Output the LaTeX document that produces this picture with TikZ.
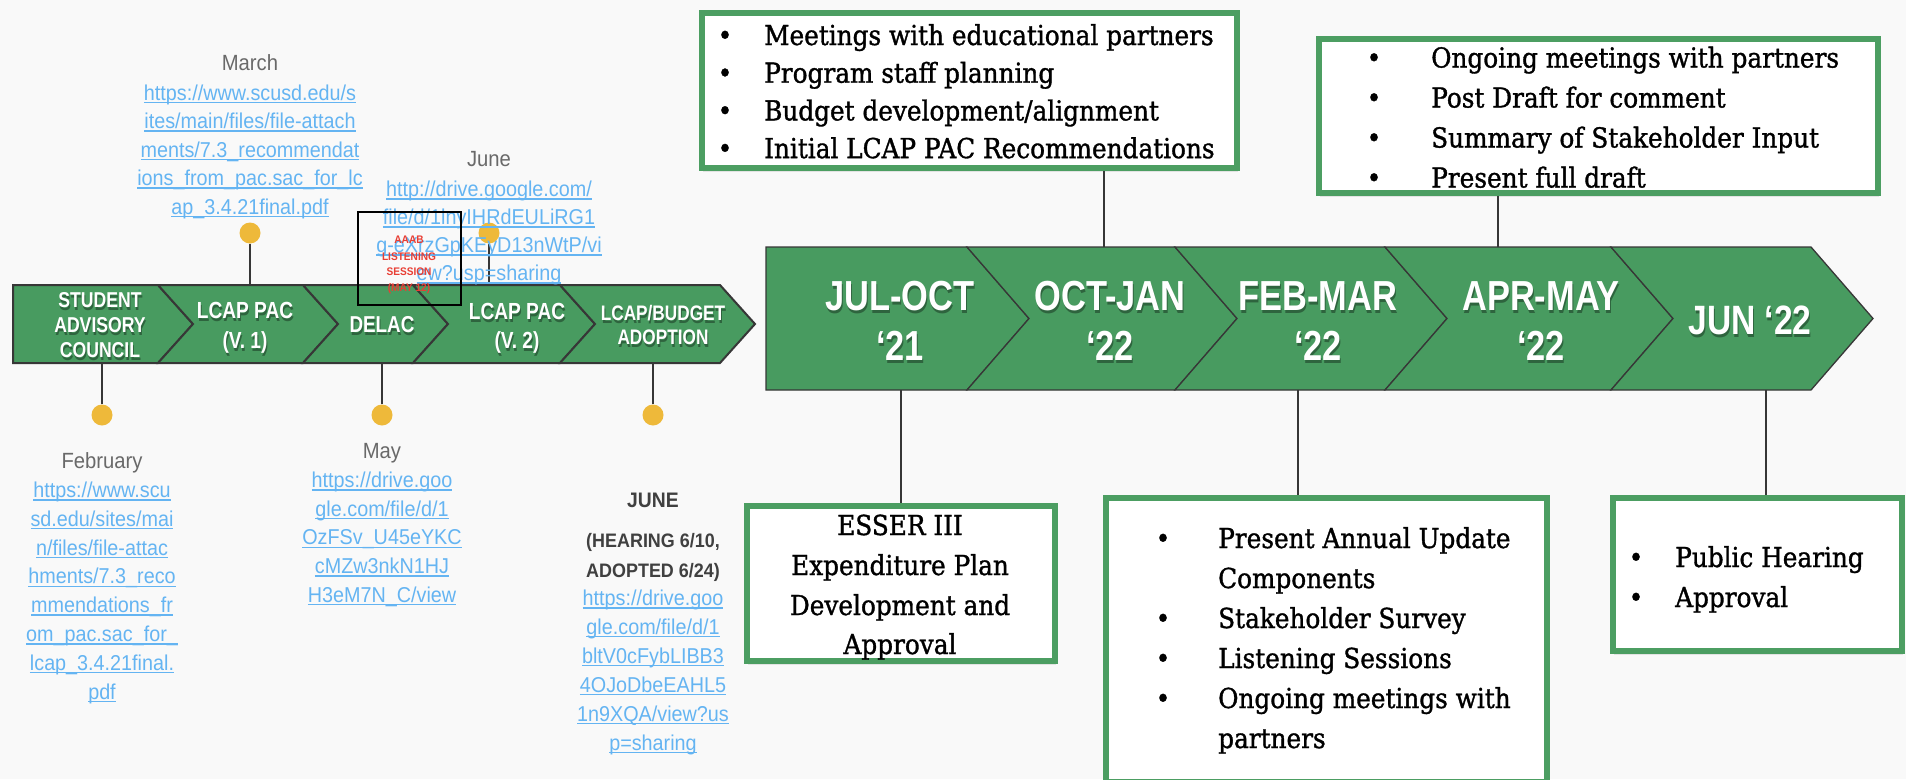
\documentclass[tikz,border=0pt]{standalone}
\usepackage{fontspec}
\usetikzlibrary{shadows}

\newfontfamily\boxfont{DejaVu Serif}[FakeStretch=0.9, FakeBold=1.2]
\newfontfamily\linkfont{Liberation Sans}[FakeStretch=0.92]
\newfontfamily\chevfont{Liberation Sans}[FakeStretch=0.82]

\definecolor{bgpaper}{RGB}{249,249,249}
\definecolor{stripgreen}{RGB}{72,155,96}
\definecolor{boxgreen}{RGB}{76,158,98}
\definecolor{linkblue}{RGB}{100,180,242}
\definecolor{dotgold}{RGB}{238,185,58}
\definecolor{monthgray}{RGB}{105,105,105}
\definecolor{edgegray}{RGB}{55,55,55}
\definecolor{alertred}{RGB}{232,62,52}

\newcommand\ulnk[1]{\setbox0\hbox{#1}\rlap{\rule[-3pt]{\wd0}{1.4pt}}\box0}

\tikzset{
  small chev/.style={fill=stripgreen, draw=edgegray, line width=2pt, line join=miter},
  large chev/.style={fill=stripgreen, draw=edgegray, line width=1.3pt, line join=miter},
  phase box/.style={draw=boxgreen, line width=6pt, fill=white, inner sep=0pt,
    drop shadow={opacity=0.18, shadow xshift=1pt, shadow yshift=-4pt}},
  box text/.style={font=\boxfont\fontsize{27.5}{38}\selectfont, inner sep=0pt, anchor=base west},
  box bullet/.style={font=\boxfont\fontsize{27.5}{38}\selectfont, inner sep=0pt, anchor=base},
  link/.style={font=\linkfont\fontsize{21.5}{28}\selectfont, text=linkblue, inner sep=0pt, anchor=base},
  month/.style={font=\linkfont\fontsize{22}{28}\selectfont, text=monthgray, inner sep=0pt, anchor=base},
  month bold/.style={font=\linkfont\bfseries\fontsize{#1}{28}\selectfont, text=black!75, inner sep=0pt, anchor=base},
  chev label/.style={font=\chevfont\bfseries\fontsize{#1}{#1}\selectfont, text=white, inner sep=0pt, anchor=base},
  chev shade/.style={font=\chevfont\bfseries\fontsize{#1}{#1}\selectfont, text=black, text opacity=0.35, inner sep=0pt, anchor=base},
  stem/.style={draw=edgegray, line width=1.5pt},
  pin/.style={circle, fill=dotgold, minimum size=21pt, inner sep=0pt},
}

\begin{document}
\begin{tikzpicture}[x=1pt, y=-1pt]

\useasboundingbox (0,0) rectangle (1906,779);
\fill[bgpaper] (0,0) rectangle (1906,779);

% small chevron strip
\filldraw[small chev] (13,285) -- (158,285) -- (193,324) -- (158,363) -- (13,363) -- cycle;
\foreach \a/\b in {158/303, 303/413, 413/560, 560/720}
  \filldraw[small chev] (\a,285) -- (\b,285) -- (\b+35,324) -- (\b,363) -- (\a,363) -- (\a+35,324) -- cycle;

% large chevron strip
\filldraw[large chev] (766,247) -- (967,247) -- (1029,318.5) -- (967,390) -- (766,390) -- cycle;
\foreach \a/\b in {967/1175, 1175/1385, 1385/1611, 1611/1811}
  \filldraw[large chev] (\a,247) -- (\b,247) -- (\b+62,318.5) -- (\b,390) -- (\a,390) -- (\a+62,318.5) -- cycle;

% pins on the small strip
\foreach \n/\x/\y/\e in {feb/102/415/363, mar/250/233/285, may/382/415/363, jun/489/233/285, adopt/653/415/363} {
  \coordinate (\n-foot) at (\x,\e);
  \node [pin] (pin-\n) at (\x,\y) {};
  \draw [stem] (pin-\n) -- (\n-foot);
}

% phase boxes
\node [phase box, minimum width=535pt, minimum height=155pt] (box-julo) at (969.5,90.5) {};
\node [phase box, minimum width=559pt, minimum height=154pt] (box-aprm) at (1598.5,116) {};
\node [phase box, minimum width=308pt, minimum height=155pt] (box-esser) at (901,583.5) {};
\node [phase box, minimum width=441pt, minimum height=284pt] (box-febm) at (1326.5,640) {};
\node [phase box, minimum width=289pt, minimum height=153pt] (box-jun) at (1757.5,574.5) {};

% stems of the large strip
\coordinate (julo-top) at (1104,247);
\coordinate (aprm-top) at (1498,247);
\coordinate (esser-foot) at (901,390);
\coordinate (febm-foot) at (1298,390);
\coordinate (jun-foot) at (1766,390);
\draw [stem] (julo-top) -- (julo-top |- box-julo.south);
\draw [stem] (aprm-top) -- (aprm-top |- box-aprm.south);
\draw [stem] (esser-foot) -- (esser-foot |- box-esser.north);
\draw [stem] (febm-foot) -- (febm-foot |- box-febm.north);
\draw [stem] (jun-foot) -- (jun-foot |- box-jun.north);

% box texts
\foreach \t [count=\i] in {Meetings with educational partners, Program staff planning,
    Budget development/alignment, Initial LCAP PAC Recommendations} {
  \node [box bullet] (julo-b\i) at (725,45+37.7*\i-37.7) {\textbullet};
  \node [box text] (julo-\i) at (764,45+37.7*\i-37.7) {\t};
}
\foreach \t [count=\i] in {Ongoing meetings with partners, Post Draft for comment,
    Summary of Stakeholder Input, Present full draft} {
  \node [box bullet] (aprm-b\i) at (1374,67.5+40*\i-40) {\textbullet};
  \node [box text] (aprm-\i) at (1431,67.5+40*\i-40) {\t};
}
\foreach \t/\y [count=\i] in {ESSER III/535, Expenditure Plan/575, Development and/615, Approval/654}
  \node [box text, anchor=base] (esser-\i) at (900,\y) {\t};
\foreach \b/\t [count=\i] in {1/Present Annual Update, 0/Components, 1/Stakeholder Survey,
    1/Listening Sessions, 1/Ongoing meetings with, 0/partners} {
  \node [box text] (febm-\i) at (1218,548+40*\i-40) {\t};
  \ifnum\b=1 \node [box bullet] (febm-b\i) at (1163,548+40*\i-40) {\textbullet}; \fi
}
\foreach \t [count=\i] in {Public Hearing, Approval} {
  \node [box bullet] (jun-b\i) at (1636,567+40*\i-40) {\textbullet};
  \node [box text] (jun-\i) at (1675,567+40*\i-40) {\t};
}

% chevron labels
\foreach \x/\y/\s/\t [count=\i] in {100/307/21.5/STUDENT, 100/332.5/21.5/ADVISORY, 100/357/21.5/COUNCIL,
    245/318/23.3/LCAP PAC, 245/348/23.3/(V. 1), 382/332.5/23/DELAC,
    517/319/23.3/LCAP PAC, 517/348/23.3/(V. 2), 663/320/21/LCAP\slash BUDGET, 663/344/21/ADOPTION,
    900/310/42/JUL-OCT, 900/360/42/‘21, 1110/310/42/OCT-JAN, 1110/360/42/‘22,
    1318/310/42/FEB-MAR, 1318/360/42/‘22, 1541/310/42/APR-MAY, 1541/360/42/‘22,
    1750/334/41/JUN ‘22} {
  \node [chev shade=\s] (lab-\i-sh) at (\x+1,\y+3) {\t};
  \node [chev label=\s] (lab-\i) at (\x,\y) {\t};
}

% months and links
\node [month] (mon-feb) at (102,468) {February};
\foreach \l [count=\i] in {https://www.scu, sd.edu/sites/mai, n/files/file-attac, hments/7.3\_reco,
    mmendations\_fr, om\_pac.sac\_for\_, lcap\_3.4.21final., pdf}
  \node [link] (url-feb-\i) at (102,497.5+28.8*\i-28.8) {\ulnk{\l}};

\node [month] (mon-mar) at (250,70) {March};
\foreach \l [count=\i] in {https://www.scusd.edu/s, ites/main/files/file-attach, ments/7.3\_recommendat,
    ions\_from\_pac.sac\_for\_lc, ap\_3.4.21final.pdf}
  \node [link] (url-mar-\i) at (250,100+28.5*\i-28.5) {\ulnk{\l}};

\node [month] (mon-may) at (382,458) {May};
\foreach \l [count=\i] in {https://drive.goo, gle.com/file/d/1, OzFSv\_U45eYKC, cMZw3nkN1HJ, H3eM7N\_C/view}
  \node [link] (url-may-\i) at (382,487.5+28.7*\i-28.7) {\ulnk{\l}};

\node [month] (mon-jun) at (489,166) {June};
\foreach \l [count=\i] in {http://drive.google.com/, file/d/1lnyIHRdEULiRG1, g-eXrzGpKEyD13nWtP/vi, ew?usp=sharing}
  \node [link] (url-jun-\i) at (489,196.5+28*\i-28) {\ulnk{\l}};

\node [month bold=21] (mon-adopt) at (653,507) {JUNE};
\node [month bold=19.5] (note-adopt-1) at (653,547) {(HEARING 6/10,};
\node [month bold=19.5] (note-adopt-2) at (653,577) {ADOPTED 6/24)};
\foreach \l [count=\i] in {https://drive.goo, gle.com/file/d/1, bltV0cFybLIBB3, 4OJoDbeEAHL5, 1n9XQA/view?us, p=sharing}
  \node [link] (url-adopt-\i) at (653,605.5+28.9*\i-28.9) {\ulnk{\l}};

% listening session overlay
\node [draw=black, line width=2pt, minimum width=103pt, minimum height=93pt, inner sep=0pt] (aaab-frame) at (409.5,258.5) {};
\foreach \t/\y [count=\i] in {AAAB/243, LISTENING/260, SESSION/275.7, (MAY 12)/291}
  \node [font=\linkfont\bfseries\fontsize{11}{11}\selectfont, text=alertred, inner sep=0pt, anchor=base] (aaab-\i) at (409,\y) {\t};

\end{tikzpicture}
\end{document}
